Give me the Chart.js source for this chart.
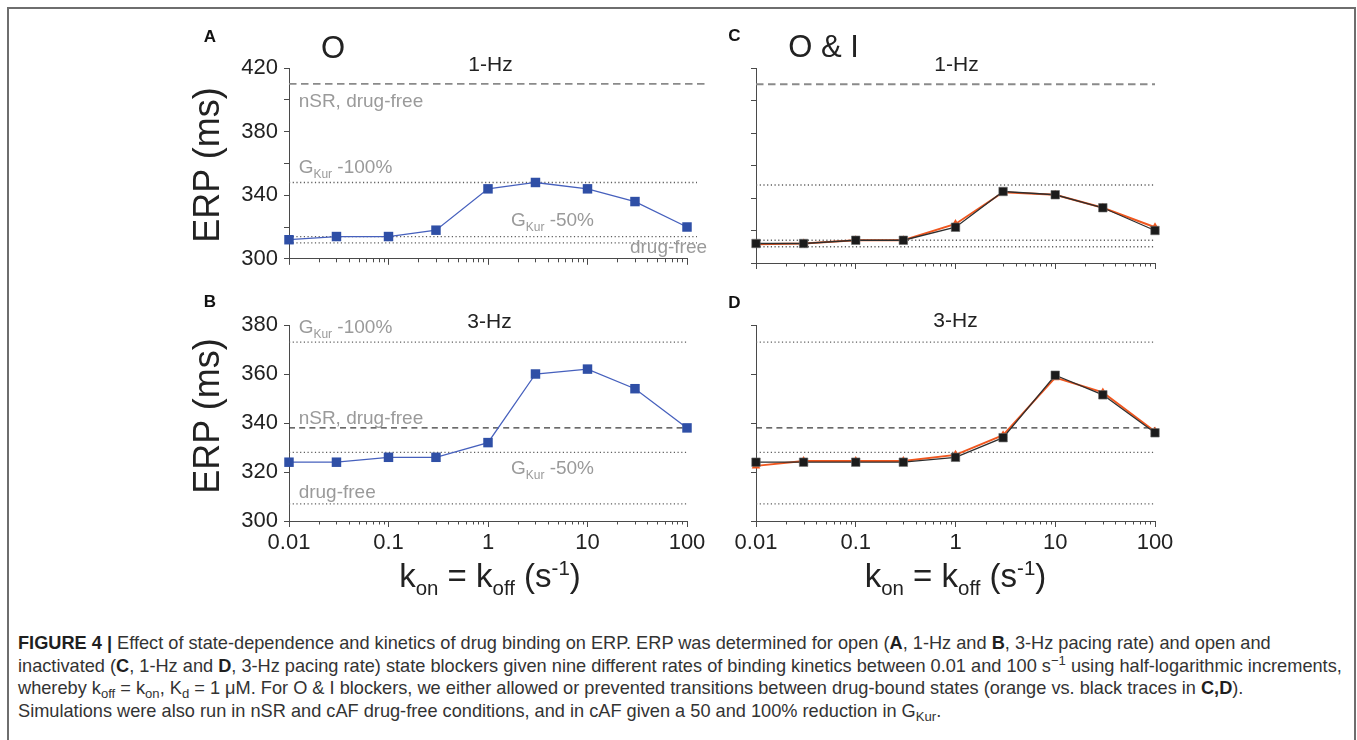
<!DOCTYPE html>
<html>
<head>
<meta charset="utf-8">
<script src="https://cdn.jsdelivr.net/npm/chart.js@4.4.1/dist/chart.umd.min.js"></script>
<style>
  html, body { margin: 0; padding: 0; background: #fff; }
  body { width: 1357px; height: 740px; position: relative; overflow: hidden;
         font-family: "Liberation Sans", Arial, Helvetica, sans-serif; color: #222; }
  .frame { position: absolute; left: 7px; top: 7px; width: 1349px; height: 800px;
           border: 2px solid #6e6e6e; border-bottom: none; box-sizing: border-box; }
  canvas { position: absolute; }
  .c { position: absolute; white-space: nowrap; line-height: 1; transform: translate(-50%, -50%); }
  .letter { font-weight: bold; font-size: 17px; color: #111; }
  .state { font-size: 31px; color: #222; }
  .rate { font-size: 21px; color: #222; }
  .ylab { font-size: 36px; color: #222; transform: translate(-50%, -50%) rotate(-90deg); }
  .xlab { font-size: 33px; color: #222; }
  .xlab sub { font-size: 0.62em; vertical-align: -0.38em; }
  .xlab sup { font-size: 0.62em; vertical-align: 0.62em; }
  .caption { position: absolute; left: 18px; top: 632px; color: #333; font-size: 16px; }
  .caption div { white-space: nowrap; height: 22.5px; line-height: 22.5px; }
  .caption b { color: #1f1f1f; }
  .caption sub { font-size: 0.72em; vertical-align: -0.3em; line-height: 0; }
  .caption sup { font-size: 0.72em; vertical-align: 0.55em; line-height: 0; }
</style>
</head>
<body>
<div class="frame"></div>

<canvas id="panelA" width="540" height="258" style="left:190px; top:20px;"></canvas>
<canvas id="panelB" width="540" height="280" style="left:190px; top:290px;"></canvas>
<canvas id="panelC" width="500" height="258" style="left:700px; top:20px;"></canvas>
<canvas id="panelD" width="500" height="280" style="left:700px; top:290px;"></canvas>

<div class="c letter" style="left:210px; top:35.5px;">A</div>
<div class="c letter" style="left:210px; top:301px;">B</div>
<div class="c letter" style="left:734.5px; top:35px;">C</div>
<div class="c letter" style="left:734.5px; top:302px;">D</div>

<div class="c state" style="left:333px; top:46.5px;">O</div>
<div class="c state" style="left:823.5px; top:46px;">O &amp; I</div>

<div class="c rate" style="left:490.5px; top:62.5px;">1-Hz</div>
<div class="c rate" style="left:956.5px; top:62.5px;">1-Hz</div>
<div class="c rate" style="left:489.5px; top:320px;">3-Hz</div>
<div class="c rate" style="left:955.5px; top:319px;">3-Hz</div>

<div class="c ylab" style="left:207px; top:165px;">ERP (ms)</div>
<div class="c ylab" style="left:207px; top:416px;">ERP (ms)</div>

<div class="c xlab" style="left:490px; top:578px;">k<sub>on</sub> = k<sub>off</sub> (s<sup>-1</sup>)</div>
<div class="c xlab" style="left:955.5px; top:578px;">k<sub>on</sub> = k<sub>off</sub> (s<sup>-1</sup>)</div>

<div class="caption" id="caption">
  <div><b>FIGURE 4 |</b> Effect of state-dependence and kinetics of drug binding on ERP. ERP was determined for open (<b>A</b>, 1-Hz and <b>B</b>, 3-Hz pacing rate) and open and</div>
  <div id="capWide">inactivated (<b>C</b>, 1-Hz and <b>D</b>, 3-Hz pacing rate) state blockers given nine different rates of binding kinetics between 0.01 and 100 s<sup>&minus;1</sup> using half-logarithmic increments,</div>
  <div>whereby k<sub>off</sub> = k<sub>on</sub>, K<sub>d</sub> = 1 &mu;M. For O &amp; I blockers, we either allowed or prevented transitions between drug-bound states (orange vs. black traces in <b>C,D</b>).</div>
  <div>Simulations were also run in nSR and cAF drug-free conditions, and in cAF given a 50 and 100% reduction in G<sub>Kur</sub>.</div>
</div>

<script>
// Binding rates (kon = koff, s^-1), half-logarithmic steps
const kRates = [0.01, 0.03, 0.1, 0.3, 1, 3, 10, 30, 100];

// ERP (ms), open-state blocker
const erpOpen1Hz = [312, 314, 314, 318, 344, 348, 344, 336, 320];
const erpOpen3Hz = [324, 324, 326, 326, 332, 360, 362, 354, 338];

// ERP (ms), open & inactivated blocker: transitions prevented (black) / allowed (orange)
const erpOI1HzBlocked = [312, 312, 314, 314, 322, 344, 342, 334, 320];
const erpOI1HzAllowed = [311.5, 312, 314, 314, 324, 343.5, 342, 334, 322];
const erpOI3HzBlocked = [324, 324, 324, 324, 326, 334, 359.5, 351.5, 336];
const erpOI3HzAllowed = [322.5, 324.5, 324.5, 324.5, 327, 335, 358.5, 352.5, 336.5];

// Reference conditions: nSR drug-free, GKur -100%, GKur -50%, cAF drug-free
const ref1Hz = [410, 348, 314, 310];
const ref3Hz = [338, 373, 328, 307];

// Axis ticks
const xMajorTicks = [0.01, 0.1, 1, 10, 100];
const xTickLabels = ['0.01', '0.1', '1', '10', '100'];
const yTicks1Hz = [300, 320, 340, 360, 380, 400, 420];
const yLabels1Hz = [300, 340, 380, 420];
const yTicks3Hz = [300, 320, 340, 360, 380];
const yLabels3Hz = [300, 320, 340, 360, 380];

const FONT = '"Liberation Sans", Arial, Helvetica, sans-serif';
Chart.defaults.font.family = FONT;

const AXIS_COLOR = '#4a4a4a';

// short minor ticks at 2..9 within each decade
const minorTicks = {
  id: 'minorTicks',
  afterDraw(chart) {
    const xs = chart.scales.x;
    const ctx = chart.ctx;
    const yb = chart.chartArea.bottom;
    ctx.save();
    ctx.strokeStyle = AXIS_COLOR;
    ctx.lineWidth = 1;
    ctx.beginPath();
    for (let d = -2; d < 2; d++) {
      for (let m = 2; m <= 9; m++) {
        const px = Math.round(xs.getPixelForValue(m * Math.pow(10, d))) + 0.5;
        ctx.moveTo(px, yb);
        ctx.lineTo(px, yb + 3.5);
      }
    }
    ctx.stroke();
    ctx.restore();
  }
};

// grey labels next to the reference lines, with subscript support
const refLabels = {
  id: 'refLabels',
  afterDatasetsDraw(chart, args, opts) {
    const items = opts.items || [];
    if (!items.length) return;
    const ctx = chart.ctx;
    const xs = chart.scales.x, ys = chart.scales.y;
    ctx.save();
    ctx.fillStyle = opts.color;
    ctx.textBaseline = 'alphabetic';
    for (const it of items) {
      let total = 0;
      const segs = it.parts.map(([t, sub]) => {
        ctx.font = (sub ? opts.subSize : opts.size) + 'px ' + FONT;
        const w = ctx.measureText(t).width;
        total += w;
        return { t, sub, w };
      });
      let px = xs.getPixelForValue(it.x);
      if (it.align === 'right') px -= total;
      const base = ys.getPixelForValue(it.y) + opts.size * 0.36;
      for (const s of segs) {
        ctx.font = (s.sub ? opts.subSize : opts.size) + 'px ' + FONT;
        ctx.fillText(s.t, px, s.sub ? base + opts.subDrop : base);
        px += s.w;
      }
    }
    ctx.restore();
  }
};

function series(values, style) {
  return Object.assign({
    data: kRates.map((k, i) => ({ x: k, y: values[i] })),
    tension: 0,
    clip: false,
    pointBorderWidth: 0
  }, style);
}

function refLines(values, ends, dashedStyle, dottedStyle) {
  return values.map((v, i) => Object.assign({
    data: [{ x: 0.01, y: v }, { x: ends[i], y: v }],
    pointRadius: 0,
    clip: false,
    order: 10
  }, i === 0 ? dashedStyle : dottedStyle));
}

const dotted = { borderColor: '#5e5e5e', borderWidth: 1.3, borderDash: [1.2, 2.5] };
const dashed1Hz = { borderColor: '#8a8a8a', borderWidth: 1.8, borderDash: [7.5, 4.5] };
const dashed3Hz = { borderColor: '#3a3a3a', borderWidth: 1.2, borderDash: [6, 4.2] };

const blueStyle = { borderColor: '#4660bd', borderWidth: 1.3, backgroundColor: '#2f4fa6',
                    pointBackgroundColor: '#2f4fa6', pointStyle: 'rect', pointRadius: 6.7, order: 1 };
const blackStyle = { borderColor: '#2e2e2e', borderWidth: 1.3, pointBackgroundColor: '#1b1b1b',
                     pointBorderColor: '#6a6a6a', pointBorderWidth: 0.6,
                     pointStyle: 'rect', pointRadius: 6, order: 1 };
const orangeStyle = { borderColor: '#f0571f', borderWidth: 1.9, pointBackgroundColor: '#f0571f',
                      pointStyle: 'triangle', pointRadius: 5, order: 2 };

function makePanel(id, g) {
  return new Chart(document.getElementById(id), {
    type: 'line',
    data: { datasets: g.datasets },
    options: {
      responsive: false,
      animation: false,
      devicePixelRatio: 1,
      layout: { padding: { left: 0, top: g.padTop, right: g.padRight, bottom: 0 } },
      plugins: {
        legend: { display: false },
        tooltip: { enabled: false },
        refLabels: { items: g.labels || [], color: '#9a9a9a', size: 19, subSize: 12, subDrop: 5 }
      },
      scales: {
        x: {
          type: 'logarithmic',
          min: 0.01, max: 100,
          afterBuildTicks: s => { s.ticks = xMajorTicks.map(v => ({ value: v })); },
          afterFit: s => { s.height = g.xAxisH; },
          ticks: {
            display: g.showX, autoSkip: false, maxRotation: 0, padding: 3,
            color: '#222', font: { size: 22 },
            callback: (v, i) => xTickLabels[i]
          },
          grid: { drawOnChartArea: false, drawTicks: true, tickLength: 6, tickColor: AXIS_COLOR, tickWidth: 1 },
          border: { display: true, color: AXIS_COLOR, width: 1 }
        },
        y: {
          type: 'linear',
          min: g.yMin, max: g.yMax,
          afterBuildTicks: s => { s.ticks = g.yTicks.map(v => ({ value: v })); },
          afterFit: s => { s.width = g.yAxisW; },
          ticks: {
            display: g.showY, padding: 6, color: '#222', font: { size: 22 },
            callback: v => (g.yLabels.includes(v) ? String(v) : '')
          },
          grid: { drawOnChartArea: false, drawTicks: true, tickLength: 5, tickColor: AXIS_COLOR, tickWidth: 1 },
          border: { display: true, color: AXIS_COLOR, width: 1 }
        }
      }
    },
    plugins: [minorTicks, refLabels]
  });
}

const gk = (pct) => [['G', 0], ['Kur', 1], [' ' + pct, 0]];

// A: open-state blocker, 1 Hz
makePanel('panelA', {
  padTop: 48, padRight: 43, xAxisH: 15, yAxisW: 99,
  yMin: 300, yMax: 420, yTicks: yTicks1Hz, yLabels: yLabels1Hz,
  showX: false, showY: true,
  datasets: [
    series(erpOpen1Hz, blueStyle),
    ...refLines(ref1Hz, [159, 126, 126, 126], dashed1Hz, dotted)
  ],
  labels: [
    { x: 0.0125, y: 400, parts: [['nSR, drug-free', 0]] },
    { x: 0.0125, y: 358.3, parts: gk('-100%') },
    { x: 1.7, y: 325, parts: gk('-50%') },
    { x: 159, y: 308.2, align: 'right', parts: [['drug-free', 0]] }
  ]
});

// B: open-state blocker, 3 Hz
makePanel('panelB', {
  padTop: 35, padRight: 43, xAxisH: 49, yAxisW: 99,
  yMin: 300, yMax: 380, yTicks: yTicks3Hz, yLabels: yLabels3Hz,
  showX: true, showY: true,
  datasets: [
    series(erpOpen3Hz, blueStyle),
    ...refLines(ref3Hz, [100, 100, 100, 100], dashed3Hz, dotted)
  ],
  labels: [
    { x: 0.0125, y: 379.6, parts: gk('-100%') },
    { x: 0.0125, y: 342.5, parts: [['nSR, drug-free', 0]] },
    { x: 1.7, y: 322, parts: gk('-50%') },
    { x: 0.0125, y: 312.3, parts: [['drug-free', 0]] }
  ]
});

// C: open & inactivated blocker, 1 Hz
makePanel('panelC', {
  padTop: 48, padRight: 45, xAxisH: 15, yAxisW: 56,
  yMin: 300, yMax: 420, yTicks: yTicks1Hz, yLabels: [],
  showX: false, showY: false,
  datasets: [
    series(erpOI1HzBlocked, blackStyle),
    series(erpOI1HzAllowed, orangeStyle),
    ...refLines(ref1Hz, [100, 100, 100, 100], dashed1Hz, dotted)
  ]
});

// D: open & inactivated blocker, 3 Hz
makePanel('panelD', {
  padTop: 35, padRight: 45, xAxisH: 49, yAxisW: 56,
  yMin: 300, yMax: 380, yTicks: yTicks3Hz, yLabels: [],
  showX: true, showY: false,
  datasets: [
    series(erpOI3HzBlocked, blackStyle),
    series(erpOI3HzAllowed, orangeStyle),
    ...refLines(ref3Hz, [100, 100, 100, 100], dashed3Hz, dotted)
  ]
});

// fit the caption so that its widest line spans the frame
(function fitCaption() {
  const cap = document.getElementById('caption');
  const wide = document.getElementById('capWide');
  wide.style.display = 'inline-block';
  const w = wide.getBoundingClientRect().width;
  wide.style.display = '';
  const target = 1325;
  cap.style.fontSize = (16 * target / w).toFixed(2) + 'px';
})();
</script>
</body>
</html>
